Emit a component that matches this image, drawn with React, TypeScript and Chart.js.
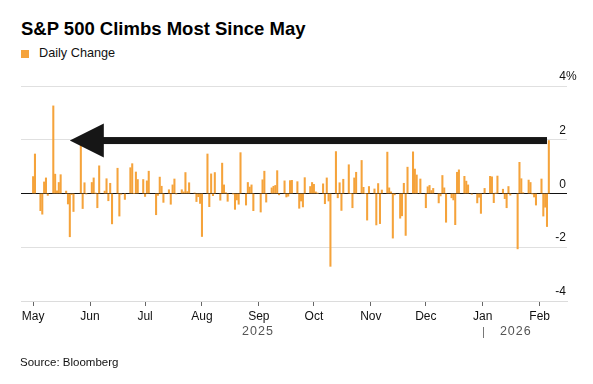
import React, { useEffect, useRef } from "react";
import { Chart, registerables } from "chart.js";

Chart.register(...registerables);

const chartTitle = "S&P 500 Climbs Most Since May";
const seriesName = "Daily Change";
const sourceText = "Source: Bloomberg";

const tradeDates: string[] = [
  "2025-05-01","2025-05-02","2025-05-05","2025-05-06","2025-05-07","2025-05-08","2025-05-09","2025-05-12","2025-05-13","2025-05-14","2025-05-15","2025-05-16","2025-05-19","2025-05-20","2025-05-21","2025-05-22","2025-05-23","2025-05-27","2025-05-28","2025-05-29","2025-05-30",
  "2025-06-02","2025-06-03","2025-06-04","2025-06-05","2025-06-06","2025-06-09","2025-06-10","2025-06-11","2025-06-12","2025-06-13","2025-06-16","2025-06-17","2025-06-18","2025-06-20","2025-06-23","2025-06-24","2025-06-25","2025-06-26","2025-06-27","2025-06-30",
  "2025-07-01","2025-07-02","2025-07-03","2025-07-07","2025-07-08","2025-07-09","2025-07-10","2025-07-11","2025-07-14","2025-07-15","2025-07-16","2025-07-17","2025-07-18","2025-07-21","2025-07-22","2025-07-23","2025-07-24","2025-07-25","2025-07-28","2025-07-29","2025-07-30","2025-07-31",
  "2025-08-01","2025-08-04","2025-08-05","2025-08-06","2025-08-07","2025-08-08","2025-08-11","2025-08-12","2025-08-13","2025-08-14","2025-08-15","2025-08-18","2025-08-19","2025-08-20","2025-08-21","2025-08-22","2025-08-25","2025-08-26","2025-08-27","2025-08-28","2025-08-29",
  "2025-09-02","2025-09-03","2025-09-04","2025-09-05","2025-09-08","2025-09-09","2025-09-10","2025-09-11","2025-09-12","2025-09-15","2025-09-16","2025-09-17","2025-09-18","2025-09-19","2025-09-22","2025-09-23","2025-09-24","2025-09-25","2025-09-26","2025-09-29","2025-09-30",
  "2025-10-01","2025-10-02","2025-10-03","2025-10-06","2025-10-07","2025-10-08","2025-10-09","2025-10-10","2025-10-13","2025-10-14","2025-10-15","2025-10-16","2025-10-17","2025-10-20","2025-10-21","2025-10-22","2025-10-23","2025-10-24","2025-10-27","2025-10-28","2025-10-29","2025-10-30","2025-10-31",
  "2025-11-03","2025-11-04","2025-11-05","2025-11-06","2025-11-07","2025-11-10","2025-11-11","2025-11-12","2025-11-13","2025-11-14","2025-11-17","2025-11-18","2025-11-19","2025-11-20","2025-11-21","2025-11-24","2025-11-25","2025-11-26","2025-11-28",
  "2025-12-01","2025-12-02","2025-12-03","2025-12-04","2025-12-05","2025-12-08","2025-12-09","2025-12-10","2025-12-11","2025-12-12","2025-12-15","2025-12-16","2025-12-17","2025-12-18","2025-12-19","2025-12-22","2025-12-23","2025-12-24","2025-12-26","2025-12-29","2025-12-30","2025-12-31",
  "2026-01-02","2026-01-05","2026-01-06","2026-01-07","2026-01-08","2026-01-09","2026-01-12","2026-01-13","2026-01-14","2026-01-15","2026-01-16","2026-01-20","2026-01-21","2026-01-22","2026-01-23","2026-01-26","2026-01-27","2026-01-28","2026-01-29","2026-01-30",
  "2026-02-02","2026-02-03","2026-02-04","2026-02-05","2026-02-06",
];

const dailyChange: number[] = [
  0.63, 1.47, -0.64, -0.77, 0.43, 0.58, -0.07, 3.26, 0.72, 0.10, 0.41, 0.70, 0.09, -0.39, -1.61, -0.04, -0.67, 2.05, -0.56, 0.40, -0.01,
  0.41, 0.58, 0.01, -0.53, 1.03, 0.09, 0.55, -0.27, 0.38, -1.13, 0.94, -0.84, -0.03, -0.22, 0.96, 1.11, 0.00, 0.80, 0.52, 0.52,
  -0.11, 0.47, 0.83, -0.79, -0.07, 0.61, 0.27, -0.33, 0.14, -0.40, 0.32, 0.54, -0.01, 0.14, 0.06, 0.78, 0.07, 0.40, 0.02, -0.30, -0.12, -0.37,
  -1.60, 1.47, -0.49, 0.73, -0.08, 0.78, -0.25, 1.13, 0.32, 0.03, -0.29, -0.01, -0.59, -0.24, -0.40, 1.52, -0.43, 0.41, 0.24, 0.32, -0.64,
  -0.69, 0.51, 0.83, -0.32, 0.21, 0.27, 0.30, 0.85, -0.05, 0.47, -0.13, -0.10, 0.48, 0.49, 0.44, -0.55, -0.28, -0.50, 0.59, 0.26, 0.41,
  0.34, 0.06, 0.01, 0.36, -0.38, 0.58, -0.28, -2.71, 1.56, -0.16, 0.40, -0.63, 0.53, 1.07, 0.00, -0.53, 0.58, 0.79, 1.23, 0.23, 0.00, -0.99, 0.26,
  0.17, -1.17, 0.37, -1.12, 0.13, 1.54, 0.21, 0.06, -1.66, -0.05, -0.92, -0.83, 0.38, -1.56, 0.98, 1.55, 0.91, 0.69, 0.54,
  -0.53, 0.25, 0.30, 0.11, 0.19, -0.35, -0.09, 0.67, 0.21, -1.07, -0.16, -0.24, -1.16, 0.79, 0.88, 0.64, 0.46, 0.32, -0.03, -0.35, -0.14, -0.74,
  0.19, 0.64, 0.62, -0.34, 0.01, 0.65, 0.16, -0.19, -0.53, 0.26, -0.06, -2.06, 1.16, 0.55, 0.03, 0.50, 0.41, -0.01, -0.13, -0.43,
  0.54, -0.84, -0.51, -1.23, 1.97,
];

const monthTickDates: string[] = [
  "2025-05-01","2025-06-01","2025-07-01","2025-08-01","2025-09-01",
  "2025-10-01","2025-11-01","2025-12-01","2026-01-01","2026-02-01",
];
const monthTickLabels: string[] = ["May","Jun","Jul","Aug","Sep","Oct","Nov","Dec","Jan","Feb"];
const yearLabels: string[] = ["2025", "2026"];
const yTickValues: number[] = [-4, -2, 0, 2, 4];

const axisStartDate = "2025-04-25";
const axisEndDate = "2026-02-16";
const arrowTipDate = "2025-05-21";
const arrowEndDate = "2026-02-05";

const ORANGE = "#f5a33b";
const FONT = '"Liberation Sans", Arial, Helvetica, sans-serif';

const ORIGIN = Date.UTC(2025, 4, 1);
function dayOf(s: string): number {
  const [y, m, d] = s.split("-").map(Number);
  return (Date.UTC(y, m - 1, d) - ORIGIN) / 86400000;
}

export default function App() {
  const canvasRef = useRef<HTMLCanvasElement | null>(null);

  useEffect(() => {
    const canvas = canvasRef.current;
    if (!canvas) return;
    Chart.defaults.font.family = FONT;

    const overlay = {
      id: "overlay",
      afterDatasetsDraw(chart: any) {
        const { ctx, chartArea, scales } = chart;
        const x = scales.x;
        const y = scales.y;
        ctx.save();
        // arrow
        const tipX = x.getPixelForValue(dayOf(arrowTipDate));
        const endX = x.getPixelForValue(dayOf(arrowEndDate));
        const ay = y.getPixelForValue(dailyChange[dailyChange.length - 1]);
        ctx.fillStyle = "#161616";
        ctx.fillRect(tipX + 30, ay - 3.5, endX - tipX - 30, 7);
        ctx.beginPath();
        ctx.moveTo(tipX, ay);
        ctx.lineTo(tipX + 34, ay - 17);
        ctx.lineTo(tipX + 34, ay + 17);
        ctx.closePath();
        ctx.fill();

        // y labels
        ctx.font = "12px " + FONT;
        ctx.fillStyle = "#111";
        ctx.textBaseline = "alphabetic";
        const maxV = Math.max(...yTickValues);
        for (const v of yTickValues) {
          const py = y.getPixelForValue(v);
          ctx.textAlign = "right";
          ctx.fillText(String(v), chartArea.right - 1, py - 6);
          if (v === maxV) {
            ctx.textAlign = "left";
            ctx.fillText("%", chartArea.right - 1, py - 6);
          }
        }

        // year labels
        const janX = x.getPixelForValue(dayOf(monthTickDates[8]));
        const mayX = x.getPixelForValue(dayOf(monthTickDates[0]));
        const lastX = x.getPixelForValue(dayOf(tradeDates[tradeDates.length - 1]));
        ctx.font = "12.5px " + FONT;
        ctx.fillStyle = "#555";
        ctx.textAlign = "center";
        try { (ctx as any).letterSpacing = "1px"; } catch (e) {}
        ctx.fillText(yearLabels[0], (mayX + janX) / 2, 335);
        ctx.fillText(yearLabels[1], (janX + lastX) / 2, 335);
        try { (ctx as any).letterSpacing = "0px"; } catch (e) {}
        ctx.strokeStyle = "#777";
        ctx.lineWidth = 1;
        ctx.beginPath();
        ctx.moveTo(Math.round(janX) + 0.5, 327);
        ctx.lineTo(Math.round(janX) + 0.5, 338);
        ctx.stroke();
        ctx.restore();
      },
    };

    const chart = new Chart(canvas, {
      type: "bar",
      data: {
        datasets: [
          {
            label: seriesName,
            data: tradeDates.map((d, i) => ({ x: dayOf(d), y: dailyChange[i] })),
            backgroundColor: ORANGE,
            borderWidth: 0,
            barThickness: 1.4,
          },
        ],
      },
      options: {
        responsive: false,
        animation: false,
        devicePixelRatio: 1,
        layout: { padding: { top: 86, left: 21, right: 0, bottom: 0 } },
        plugins: { legend: { display: false }, tooltip: { enabled: false } },
        scales: {
          x: {
            type: "linear",
            offset: false,
            min: dayOf(axisStartDate) - 0.6,
            max: dayOf(axisEndDate) - 0.1,
            afterBuildTicks: (scale: any) => {
              scale.ticks = monthTickDates.map((d) => ({ value: dayOf(d) }));
            },
            afterFit: (scale: any) => {
              scale.height = 83;
              scale.paddingLeft = 0;
              scale.paddingRight = 0;
            },
            ticks: {
              autoSkip: false,
              maxRotation: 0,
              padding: 3,
              color: "#111",
              font: { size: 12, family: FONT },
              callback: (_v: any, i: number) => monthTickLabels[i],
            },
            grid: { offset: false, drawOnChartArea: false, drawTicks: true, tickLength: 5, color: "#666" },
            border: { display: true, color: "#dcdcdc", width: 1 },
          },
          y: {
            position: "right",
            min: -4,
            max: 4,
            afterBuildTicks: (scale: any) => {
              scale.ticks = yTickValues.map((v) => ({ value: v }));
            },
            afterFit: (scale: any) => {
              scale.width = 26;
              scale.paddingTop = 0;
              scale.paddingBottom = 0;
            },
            ticks: { display: false },
            grid: {
              drawTicks: false,
              color: (c: any) => (c.tick && c.tick.value === 0 ? "#111" : "#e0e0e0"),
              lineWidth: 1,
            },
            border: { display: false },
          },
        },
      },
      plugins: [overlay],
    } as any);

    return () => chart.destroy();
  }, []);

  return (
    <div style={{ position: "absolute", left: 0, top: 0, width: 593, height: 384, background: "#fff", fontFamily: FONT }}>
      <div style={{ position: "absolute", left: 21, top: 20, fontSize: "18.5px", lineHeight: "18.5px", fontWeight: "bold", color: "#000", whiteSpace: "nowrap" }}>
        {chartTitle}
      </div>
      <div style={{ position: "absolute", left: 21, top: 50, width: 8, height: 8, background: ORANGE }} />
      <div style={{ position: "absolute", left: 39, top: 46.5, fontSize: "12.7px", lineHeight: "12.7px", color: "#111", whiteSpace: "nowrap" }}>
        {seriesName}
      </div>
      <canvas ref={canvasRef} width={593} height={384} style={{ position: "absolute", left: 0, top: 0, width: 593, height: 384 }} />
      <div style={{ position: "absolute", left: 20, top: 357.3, fontSize: "11.5px", lineHeight: "11.5px", color: "#111", whiteSpace: "nowrap" }}>
        {sourceText}
      </div>
    </div>
  );
}
